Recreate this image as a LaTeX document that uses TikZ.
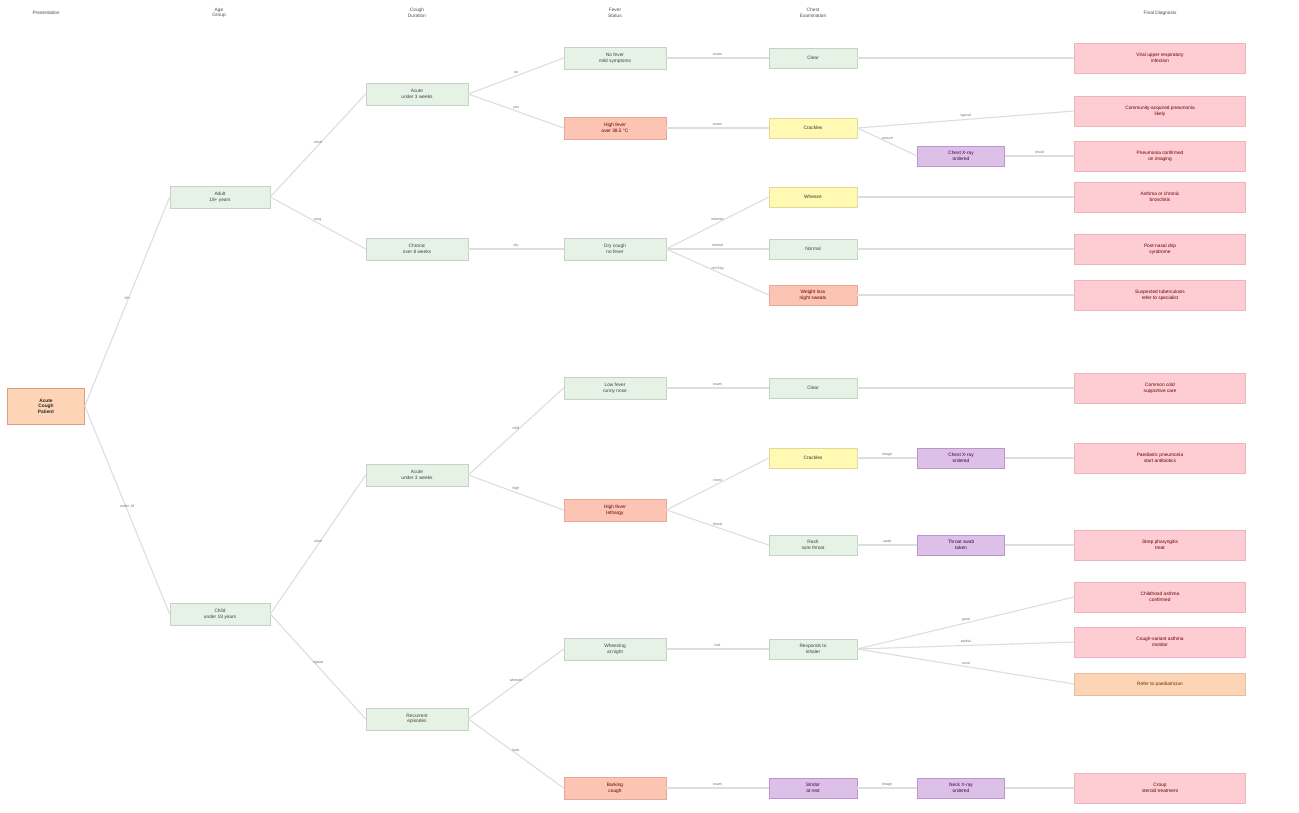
\documentclass[tikz,border=0pt]{standalone}
\usepackage{fontspec}
\setmainfont{Liberation Sans}
\definecolor{gfill}{RGB}{230,242,230}
\definecolor{gdraw}{RGB}{196,212,196}
\definecolor{rfill}{RGB}{252,196,178}
\definecolor{rdraw}{RGB}{232,168,150}
\definecolor{yfill}{RGB}{255,249,180}
\definecolor{ydraw}{RGB}{226,218,150}
\definecolor{pfill}{RGB}{220,192,232}
\definecolor{pdraw}{RGB}{186,150,204}
\definecolor{dfill}{RGB}{253,205,211}
\definecolor{ddraw}{RGB}{236,180,188}
\definecolor{ofill}{RGB}{253,212,182}
\definecolor{odraw}{RGB}{214,160,130}
\definecolor{lcol}{RGB}{222,222,222}
\begin{document}
\begin{tikzpicture}[x=1pt,y=-1pt,
  base/.style={draw, line width=0.6pt, align=center, inner sep=0pt, font=\fontsize{4.8}{5.6}\selectfont},
  gbox/.style={base, fill=gfill, draw=gdraw, text=black!75, minimum width=102, minimum height=22},
  rbox/.style={base, fill=rfill, draw=rdraw, text=red!40!black, minimum width=102, minimum height=22},
  gsm/.style={gbox, minimum width=88, minimum height=20},
  ysm/.style={base, fill=yfill, draw=ydraw, text=black!80, minimum width=88, minimum height=20},
  rsm/.style={rbox, minimum width=88, minimum height=20},
  psm/.style={base, fill=pfill, draw=pdraw, text=violet!50!black, minimum width=88, minimum height=20},
  diag/.style={base, fill=dfill, draw=ddraw, text=red!40!black, minimum width=171, minimum height=30},
  odiag/.style={base, fill=ofill, draw=odraw!70, text=orange!40!black, minimum width=171, minimum height=22},
  hdr/.style={align=center, inner sep=0pt, font=\fontsize{4.8}{5.6}\selectfont, text=black!70},
  conn/.style={draw=lcol, line width=1.1pt},
  elab/.style={midway, above=1.5pt, inner sep=0pt, font=\fontsize{3.6}{4}\selectfont, text=black!55}]
\useasboundingbox[fill=white] (0,0) rectangle (1299,813);
% headers
\node[hdr] (h1) at (46,13) {Presentation};
\node[hdr] (h2) at (219,13) {Age\\Group};
\node[hdr] (h3) at (417,13) {Cough\\Duration};
\node[hdr] (h4) at (615,13) {Fever\\Status};
\node[hdr] (h5) at (813,13) {Chest\\Examination};
\node[hdr] (h6) at (1160,13) {Final Diagnosis};
% root
\node[base, fill=ofill, draw=odraw, text=black!85, minimum width=77, minimum height=36, font=\bfseries\fontsize{4.8}{5.6}\selectfont] (root) at (46,406) {Acute\\Cough\\Patient};
% column 1
\node[gbox, minimum width=100] (A) at (220,197) {Adult\\18+ years};
\node[gbox, minimum width=100] (B) at (220,614) {Child\\under 18 years};
% column 2
\node[gbox] (A1) at (417,94) {Acute\\under 3 weeks};
\node[gbox] (A2) at (417,249) {Chronic\\over 8 weeks};
\node[gbox] (B1) at (417,475) {Acute\\under 3 weeks};
\node[gbox] (B2) at (417,719) {Recurrent\\episodes};
% column 3
\node[gbox] (c1) at (615,58) {No fever\\mild symptoms};
\node[rbox] (c2) at (615,128) {High fever\\over 38.5 °C};
\node[gbox] (c3) at (615,249) {Dry cough\\no fever};
\node[gbox] (c4) at (615,388) {Low fever\\runny nose};
\node[rbox] (c5) at (615,510) {High fever\\lethargy};
\node[gbox] (c6) at (615,649) {Wheezing\\at night};
\node[rbox] (c7) at (615,788) {Barking\\cough};
% column 4
\node[gsm] (d1) at (813,58) {Clear};
\node[ysm] (d2) at (813,128) {Crackles};
\node[ysm] (d3) at (813,197) {Wheeze};
\node[gsm] (d4) at (813,249) {Normal};
\node[rsm] (d5) at (813,295) {Weight loss\\night sweats};
\node[gsm] (d6) at (813,388) {Clear};
\node[ysm] (d7) at (813,458) {Crackles};
\node[gsm] (d8) at (813,545) {Rash\\sore throat};
\node[gsm] (d9) at (813,649) {Responds to\\inhaler};
\node[psm] (d10) at (813,788) {Stridor\\at rest};
% column 5
\node[psm, minimum width=87] (e1) at (961,156) {Chest X-ray\\ordered};
\node[psm, minimum width=87] (e2) at (961,458) {Chest X-ray\\ordered};
\node[psm, minimum width=87] (e3) at (961,545) {Throat swab\\taken};
\node[psm, minimum width=87] (e4) at (961,788) {Neck X-ray\\ordered};
% column 6
\node[diag] (f1) at (1160,58) {Viral upper respiratory\\infection};
\node[diag] (f2) at (1160,111) {Community-acquired pneumonia\\likely};
\node[diag] (f3) at (1160,156) {Pneumonia confirmed\\on imaging};
\node[diag] (f4) at (1160,197) {Asthma or chronic\\bronchitis};
\node[diag] (f5) at (1160,249) {Post-nasal drip\\syndrome};
\node[diag] (f6) at (1160,295) {Suspected tuberculosis\\refer to specialist};
\node[diag] (f7) at (1160,388) {Common cold\\supportive care};
\node[diag] (f8) at (1160,458) {Paediatric pneumonia\\start antibiotics};
\node[diag] (f9) at (1160,545) {Strep pharyngitis\\treat};
\node[diag] (f10) at (1160,597) {Childhood asthma\\confirmed};
\node[diag] (f11) at (1160,642) {Cough-variant asthma\\monitor};
\node[odiag] (f12) at (1160,684) {Refer to paediatrician};
\node[diag] (f13) at (1160,788) {Croup\\steroid treatment};
% connectors
\draw[conn] (root.east) -- node[elab] {18+} (A.west);
\draw[conn] (root.east) -- node[elab] {under 18} (B.west);
\draw[conn] (A.east) -- node[elab] {short} (A1.west);
\draw[conn] (A.east) -- node[elab] {long} (A2.west);
\draw[conn] (B.east) -- node[elab] {short} (B1.west);
\draw[conn] (B.east) -- node[elab] {repeat} (B2.west);
\draw[conn] (A1.east) -- node[elab] {no} (c1.west);
\draw[conn] (A1.east) -- node[elab] {yes} (c2.west);
\draw[conn] (A2.east) -- node[elab] {dry} (c3.west);
\draw[conn] (B1.east) -- node[elab] {mild} (c4.west);
\draw[conn] (B1.east) -- node[elab] {high} (c5.west);
\draw[conn] (B2.east) -- node[elab] {wheeze} (c6.west);
\draw[conn] (B2.east) -- node[elab] {bark} (c7.west);
\draw[conn] (c1.east) -- node[elab] {exam} (d1.west);
\draw[conn] (c2.east) -- node[elab] {exam} (d2.west);
\draw[conn] (c3.east) -- node[elab] {wheeze} (d3.west);
\draw[conn] (c3.east) -- node[elab] {normal} (d4.west);
\draw[conn] (c3.east) -- node[elab] {red flag} (d5.west);
\draw[conn] (c4.east) -- node[elab] {exam} (d6.west);
\draw[conn] (c5.east) -- node[elab] {chest} (d7.west);
\draw[conn] (c5.east) -- node[elab] {throat} (d8.west);
\draw[conn] (c6.east) -- node[elab] {trial} (d9.west);
\draw[conn] (c7.east) -- node[elab] {exam} (d10.west);
\draw[conn] (d1.east) -- (f1.west);
\draw[conn] (d2.east) -- node[elab] {typical} (f2.west);
\draw[conn] (d2.east) -- node[elab] {unsure} (e1.west);
\draw[conn] (e1.east) -- node[elab] {result} (f3.west);
\draw[conn] (d3.east) -- (f4.west);
\draw[conn] (d4.east) -- (f5.west);
\draw[conn] (d5.east) -- (f6.west);
\draw[conn] (d6.east) -- (f7.west);
\draw[conn] (d7.east) -- node[elab] {image} (e2.west);
\draw[conn] (e2.east) -- (f8.west);
\draw[conn] (d8.east) -- node[elab] {swab} (e3.west);
\draw[conn] (e3.east) -- (f9.west);
\draw[conn] (d9.east) -- node[elab] {good} (f10.west);
\draw[conn] (d9.east) -- node[elab] {partial} (f11.west);
\draw[conn] (d9.east) -- node[elab] {none} (f12.west);
\draw[conn] (d10.east) -- node[elab] {image} (e4.west);
\draw[conn] (e4.east) -- (f13.west);
\end{tikzpicture}
\end{document}
